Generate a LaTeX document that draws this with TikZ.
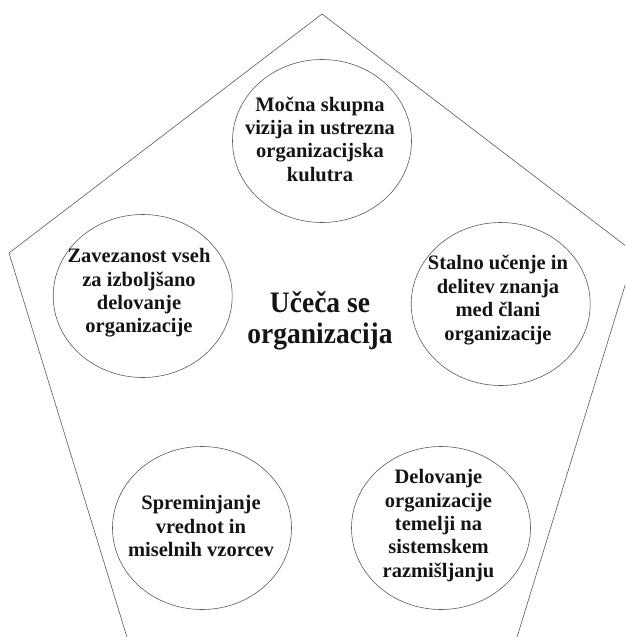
\documentclass[tikz,border=0pt]{standalone}
\usepackage{fontspec}
\setmainfont{Liberation Serif}
\usetikzlibrary{shapes.geometric}
\begin{document}
\begin{tikzpicture}[x=1pt,y=-1pt,
  outline/.style={draw=black!65, line width=0.6pt},
  bubble/.style={outline, ellipse, minimum width=179pt, minimum height=163pt, inner sep=0pt},
  bubbletext/.style={align=center, font=\bfseries\fontsize{20.5}{23.4}\selectfont, text=black!92, inner sep=0pt},
  title/.style={align=center, font=\bfseries\fontsize{27.5}{28.5}\selectfont, text=black!92, inner sep=0pt, yscale=1.08}]
\useasboundingbox (0,0) rectangle (625,637);

% open pentagon frame, running off the page at the bottom and right
\begin{scope}
  \clip (0,0) rectangle (625,637);
  \coordinate (pbl) at (130,647);
  \coordinate (pl) at (9,253);
  \coordinate (pt) at (322,14);
  \coordinate (pr) at (635,253);
  \coordinate (pbr) at (514,647);
  \draw[outline, line join=miter] (pbl) -- (pl) -- (pt) -- (pr) -- (pbr);
\end{scope}

% five bubbles
\node[bubble] (vision) at (322,141) {};
\node[bubble] (commit) at (142.7,296) {};
\node[bubble] (learn)  at (500.7,304) {};
\node[bubble] (values) at (202,528) {};
\node[bubble] (system) at (441,528) {};

\node[bubbletext] (tvision) at (320,139) {Močna skupna\\vizija in ustrezna\\organizacijska\\kulutra};
\node[bubbletext] (tcommit) at (139,293) {Zavezanost vseh\\za izboljšano\\delovanje\\organizacije};
\node[bubbletext] (tlearn)  at (498,300) {Stalno učenje in\\delitev znanja\\med člani\\organizacije};
\node[bubbletext] (tvalues) at (201,526) {Spreminjanje\\vrednot in\\miselnih vzorcev};
\node[bubbletext] (tsystem) at (438.5,525.5) {Delovanje\\organizacije\\temelji na\\sistemskem\\razmišljanju};

% central title
\node[title] (core) at (320,321) {Učeča se\\organizacija};
\end{tikzpicture}
\end{document}
